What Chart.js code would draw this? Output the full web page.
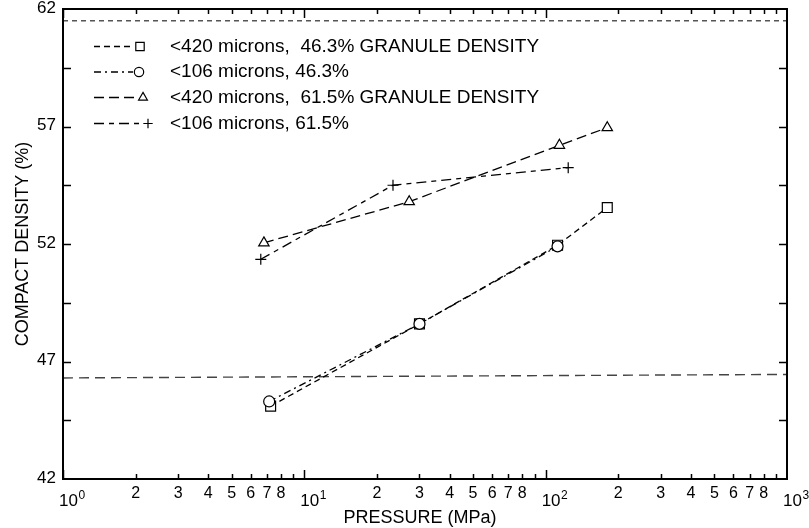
<!DOCTYPE html>
<html>
<head>
<meta charset="utf-8">
<script src="https://cdn.jsdelivr.net/npm/chart.js@4.4.0/dist/chart.umd.min.js"></script>
<style>
  html, body { margin: 0; padding: 0; background: #fff; }
  #wrap { width: 809px; height: 528px; position: relative; }
</style>
</head>
<body>
<div id="wrap"><canvas id="densityChart"></canvas></div>
<script>
// compact density vs. compaction pressure for four granule batches
const pressure420Low = [7.25, 30, 112, 180];
const density420Low = [45.1, 48.6, 51.95, 53.55];
const pressure106Low = [7.15, 30, 112];
const density106Low = [45.3, 48.6, 51.9];
const pressure420High = [6.8, 27.2, 114, 180];
const density420High = [52.05, 53.8, 56.2, 56.95];
const pressure106High = [6.6, 23.3, 124];
const density106High = [51.35, 54.5, 55.25];

// granule density reference lines
const refPressure = [1, 1000];
const refHigh = [61.5, 61.5];
const refLow = [46.3, 46.45];

const seriesLabels = [
    '<420 microns,  46.3% GRANULE DENSITY',
    '<106 microns, 46.3%',
    '<420 microns,  61.5% GRANULE DENSITY',
    '<106 microns, 61.5%'
];

const yTickValues = [42, 47, 52, 57, 62];
const xMinorLabels = [2, 3, 4, 5, 6, 7, 8];
const xDecades = [0, 1, 2, 3];

const FONT = '"Liberation Sans", Arial, Helvetica, sans-serif';

function toPoints(xs, ys) {
    return xs.map((x, i) => ({ x: x, y: ys[i] }));
}

function series(label, xs, ys, style, radius, dash, order) {
    return {
        label: label,
        data: toPoints(xs, ys),
        order: order,
        borderColor: '#000',
        borderWidth: 1.3,
        borderDash: dash,
        pointStyle: style,
        pointRadius: radius,
        pointBorderWidth: 1.2,
        pointBorderColor: '#000',
        pointBackgroundColor: '#fff',
        fill: false,
        tension: 0
    };
}

function refLine(ys, dash, color) {
    return {
        data: toPoints(refPressure, ys),
        order: 5,
        borderColor: color,
        borderWidth: 1.4,
        borderDash: dash,
        pointRadius: 0,
        fill: false,
        tension: 0
    };
}

// lower order is painted last, so circles sit over the squares
const datasets = [
    refLine(refHigh, [5, 4], '#555'),
    refLine(refLow, [10, 6], '#444'),
    series(seriesLabels[0], pressure420Low, density420Low, 'rect', 7, [6, 4], 2),
    series(seriesLabels[1], pressure106Low, density106Low, 'circle', 5.5, [7, 4, 2, 4], 1),
    series(seriesLabels[2], pressure420High, density420High, 'triangle', 6, [10, 5], 2),
    series(seriesLabels[3], pressure106High, density106High, 'cross', 5.5, [10, 5, 5, 5], 1)
];

// legend rows: sample line end, marker x
const legendRows = [
    { y: 46.5, lineEnd: 130, mx: 140 },
    { y: 72, lineEnd: 133, mx: 139 },
    { y: 97.5, lineEnd: 137, mx: 143 },
    { y: 123.5, lineEnd: 141, mx: 148 }
];

const frameAxes = {
    id: 'frameAxes',
    afterDraw(chart) {
        const { ctx, chartArea: a } = chart;
        const xs = chart.scales.x;
        const ys = chart.scales.y;
        ctx.save();
        ctx.strokeStyle = '#000';
        ctx.fillStyle = '#000';
        ctx.setLineDash([]);

        // inward ticks
        ctx.lineWidth = 1.5;
        ctx.beginPath();
        for (let d = 0; d < 3; d++) {
            for (let m = 1; m <= 9; m++) {
                const px = Math.round(xs.getPixelForValue(m * Math.pow(10, d))) + 0.5;
                const len = m === 1 ? 9 : 5;
                ctx.moveTo(px, a.bottom);
                ctx.lineTo(px, a.bottom - len);
                ctx.moveTo(px, a.top);
                ctx.lineTo(px, a.top + len);
            }
        }
        for (let v = 44.5; v < 62; v += 2.5) {
            const py = Math.round(ys.getPixelForValue(v)) + 0.5;
            ctx.moveTo(a.left, py);
            ctx.lineTo(a.left + 8, py);
            ctx.moveTo(a.right, py);
            ctx.lineTo(a.right - 8, py);
        }
        ctx.stroke();

        ctx.lineWidth = 2;
        ctx.strokeRect(a.left, a.top, a.right - a.left, a.bottom - a.top);

        // y tick labels
        ctx.font = '17px ' + FONT;
        ctx.textAlign = 'right';
        ctx.textBaseline = 'middle';
        yTickValues.forEach(v => {
            ctx.fillText(String(v), 56, ys.getPixelForValue(v) - 1);
        });

        // x tick labels
        ctx.textAlign = 'center';
        ctx.textBaseline = 'alphabetic';
        ctx.font = '16px ' + FONT;
        for (let d = 0; d < 3; d++) {
            xMinorLabels.forEach(m => {
                ctx.fillText(String(m), xs.getPixelForValue(m * Math.pow(10, d)), 498);
            });
        }
        ctx.textAlign = 'left';
        xDecades.forEach(d => {
            const px = xs.getPixelForValue(Math.pow(10, d));
            ctx.font = '17px ' + FONT;
            ctx.fillText('10', px - 4, 506);
            const w = ctx.measureText('10').width;
            ctx.font = '12px ' + FONT;
            ctx.fillText(String(d), px - 4 + w + 0.5, 499);
        });

        // axis titles
        ctx.font = '18px ' + FONT;
        ctx.textAlign = 'center';
        ctx.fillText('PRESSURE (MPa)', (a.left + a.right) / 2 - 5, 523);
        ctx.save();
        ctx.translate(28, (a.top + a.bottom) / 2);
        ctx.rotate(-Math.PI / 2);
        ctx.fillText('COMPACT DENSITY (%)', 0, 0);
        ctx.restore();

        // legend
        ctx.font = '19px ' + FONT;
        ctx.textAlign = 'left';
        ctx.textBaseline = 'middle';
        legendRows.forEach((row, i) => {
            const ds = chart.data.datasets[i + 2];
            ctx.strokeStyle = '#000';
            ctx.lineWidth = ds.borderWidth;
            ctx.setLineDash(ds.borderDash);
            ctx.beginPath();
            ctx.moveTo(94, row.y);
            ctx.lineTo(row.lineEnd, row.y);
            ctx.stroke();
            ctx.setLineDash([]);
            ctx.fillStyle = '#fff';
            ctx.lineWidth = ds.pointBorderWidth;
            Chart.helpers.drawPoint(ctx, {
                pointStyle: ds.pointStyle,
                radius: ds.pointRadius * 0.85,
                rotation: 0,
                borderWidth: ds.pointBorderWidth
            }, row.mx, row.y);
            ctx.fillStyle = '#000';
            ctx.fillText(ds.label, 170, row.y);
        });
        ctx.restore();
    }
};

new Chart(document.getElementById('densityChart'), {
    type: 'line',
    data: { datasets },
    options: {
        responsive: true,
        maintainAspectRatio: false,
        animation: false,
        events: [],
        layout: { padding: { left: 63, right: 22, top: 9, bottom: 49 } },
        scales: {
            x: { type: 'logarithmic', min: 1, max: 1000, display: false },
            y: { type: 'linear', min: 42, max: 62, display: false }
        },
        plugins: {
            legend: { display: false },
            tooltip: { enabled: false }
        }
    },
    plugins: [frameAxes]
});
</script>
</body>
</html>
